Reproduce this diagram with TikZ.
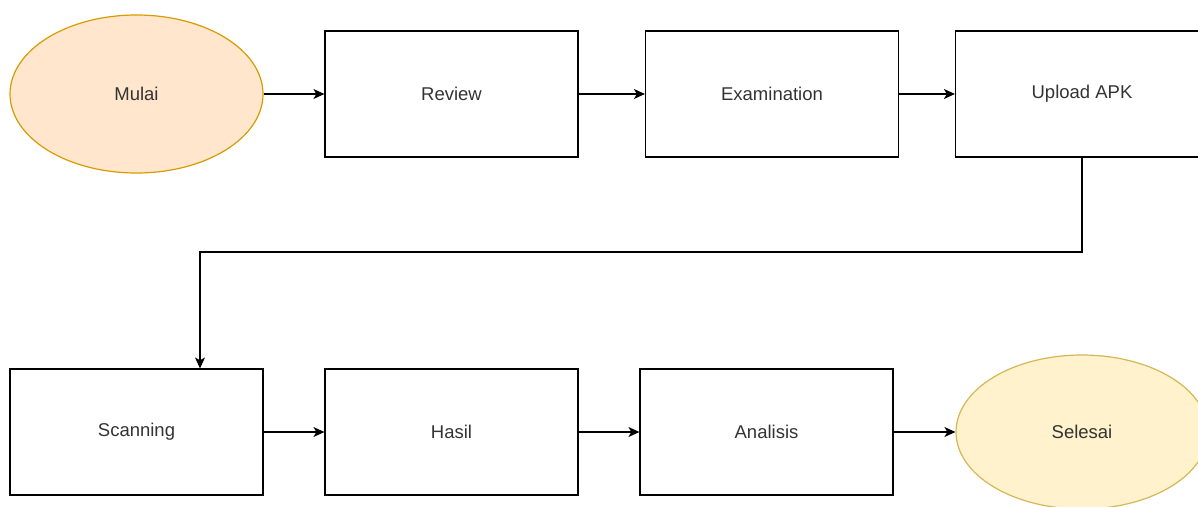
\documentclass[tikz,border=0pt]{standalone}
\usepackage{fontspec}
\setmainfont{Liberation Sans}
\usetikzlibrary{shapes.geometric,arrows.meta}
\definecolor{startfill}{HTML}{FFE6CC}
\definecolor{startdraw}{HTML}{D79B00}
\definecolor{endfill}{HTML}{FFF2CC}
\definecolor{enddraw}{HTML}{D6B656}
\definecolor{txt}{HTML}{333333}
\begin{document}
\begin{tikzpicture}[x=1pt,y=-1pt,
  lbl/.style={text=txt,font=\fontsize{18.5}{22}\selectfont},
  box/.style={lbl,draw=black,line width=1.2pt,rectangle,minimum width=253pt,minimum height=126pt,inner sep=0pt},
  startell/.style={lbl,draw=startdraw,fill=startfill,line width=1.2pt,ellipse,minimum width=253pt,minimum height=158pt,inner sep=0pt},
  endell/.style={lbl,draw=enddraw,fill=endfill,line width=1.2pt,ellipse,minimum width=252pt,minimum height=154pt,inner sep=0pt},
  flow/.style={draw=black,line width=1.2pt,-{Stealth[length=11pt,width=10pt,inset=3pt]}}]
\useasboundingbox (0,0) rectangle (1198,506);
\clip (0,0) rectangle (1198,506);
\node[startell] (mulai) at (136.5,94) {Mulai};
\node[box] (review) at (451.5,94) {Review};
\node[box] (exam) at (772,94) {Examination};
\node[box] (upload) at (1082,94) {Upload APK};
\node[box] (scan) at (136.5,432) {Scanning};
\node[box] (hasil) at (451.5,432) {Hasil};
\node[box] (anal) at (766.5,432) {Analisis};
\node[endell] (selesai) at (1082,432) {Selesai};
\coordinate (c1) at (1082,252);
\coordinate (c2) at (200,252);
\draw[flow] (mulai) -- (review);
\draw[flow] (review) -- (exam);
\draw[flow] (exam) -- (upload);
\draw[flow] (upload.south) -- (c1) -- (c2) -- (c2 |- scan.north);
\draw[flow] (scan) -- (hasil);
\draw[flow] (hasil) -- (anal);
\draw[flow] (anal) -- (selesai);
\end{tikzpicture}
\end{document}
